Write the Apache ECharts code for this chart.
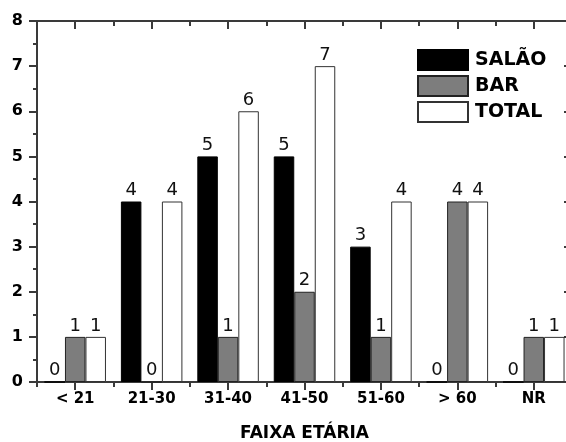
<!DOCTYPE html>
<html><head><meta charset="utf-8">
<script src="https://cdn.jsdelivr.net/npm/echarts@6/dist/echarts.min.js"></script>
<style>html,body{margin:0;padding:0;background:#fff}#c{width:566px;height:442px}</style>
</head><body><div id="c"></div>
<script>
var categories = ['< 21', '21-30', '31-40', '41-50', '51-60', '> 60', 'NR'];
var salao = [0, 4, 5, 5, 3, 0, 0];
var bar = [1, 0, 1, 2, 1, 4, 1];
var total = [1, 4, 6, 7, 4, 4, 1];
var seriesNames = ['SALÃO', 'BAR', 'TOTAL'];
var xTitle = 'FAIXA ETÁRIA';

var font = '"DejaVu Sans", "Liberation Sans", Arial, sans-serif';
var axisColor = '#3a3a3a';
var chart = echarts.init(document.getElementById('c'));
function lbl() {
  return {show: true, position: 'top', distance: 2, color: '#111', fontFamily: font, fontSize: 18};
}
function catAxis(pos, opts) {
  var base = {
    type: 'category', data: categories, position: pos, boundaryGap: true,
    axisLine: {show: true, lineStyle: {color: axisColor, width: 2}},
    axisLabel: {show: false},
    axisTick: {show: true, alignWithLabel: true, inside: pos === 'top', length: 8, lineStyle: {color: axisColor, width: 2}},
    splitLine: {show: false}
  };
  return Object.assign(base, opts || {});
}
var option = {
  animation: false,
  backgroundColor: '#fff',
  grid: {left: 37, top: 21, width: 535, height: 361, containLabel: false, outerBoundsMode: 'none'},
  legend: {
    orient: 'vertical', left: 412, top: 44, itemWidth: 50, itemHeight: 20, itemGap: 4,
    icon: 'rect',
    textStyle: {fontFamily: font, fontSize: 19, fontWeight: 'bold', color: '#000', padding: [0, 0, 0, 2]},
    data: seriesNames
  },
  xAxis: [
    catAxis('bottom', {
      axisLabel: {show: true, margin: 10, fontFamily: font, fontSize: 15, fontWeight: 'bold', color: '#000'},
      name: xTitle, nameLocation: 'middle', nameGap: 43,
      nameTextStyle: {fontFamily: font, fontSize: 17, fontWeight: 'bold', color: '#000'}
    }),
    catAxis('bottom', {axisLine: {show: false}, axisTick: {show: true, alignWithLabel: false, length: 5, lineStyle: {color: axisColor, width: 2}}}),
    catAxis('top'),
    catAxis('top', {axisLine: {show: false}, axisTick: {show: true, alignWithLabel: false, inside: true, length: 5, lineStyle: {color: axisColor, width: 2}}})
  ],
  yAxis: [
    {
      type: 'value', min: 0, max: 8, interval: 1, position: 'left',
      axisLine: {show: true, lineStyle: {color: axisColor, width: 2}},
      axisTick: {show: true, length: 8, lineStyle: {color: axisColor, width: 2}},
      minorTick: {show: true, splitNumber: 2, length: 4, lineStyle: {color: axisColor, width: 2}},
      axisLabel: {margin: 14, fontFamily: font, fontSize: 16, fontWeight: 'bold', color: '#000'},
      splitLine: {show: false}
    },
    {
      type: 'value', min: 0, max: 8, interval: 1, position: 'right',
      axisLine: {show: true, lineStyle: {color: axisColor, width: 2}},
      axisTick: {show: true, inside: true, length: 8, lineStyle: {color: axisColor, width: 2}},
      minorTick: {show: true, splitNumber: 2, length: 4, lineStyle: {color: axisColor, width: 2}},
      axisLabel: {show: false},
      splitLine: {show: false}
    }
  ],
  series: [
    {name: seriesNames[0], type: 'bar', data: salao, barWidth: 20.5, barGap: '0%', barCategoryGap: '20%',
     itemStyle: {color: '#000', borderColor: '#000', borderWidth: 1}, label: lbl()},
    {name: seriesNames[1], type: 'bar', data: bar, barWidth: 20.5, barGap: '0%',
     itemStyle: {color: '#7d7d7d', borderColor: '#222', borderWidth: 1}, label: lbl()},
    {name: seriesNames[2], type: 'bar', data: total, barWidth: 20.5, barGap: '0%',
     itemStyle: {color: '#fff', borderColor: '#333', borderWidth: 1}, label: lbl()}
  ]
};
chart.setOption(option);
</script></body></html>
